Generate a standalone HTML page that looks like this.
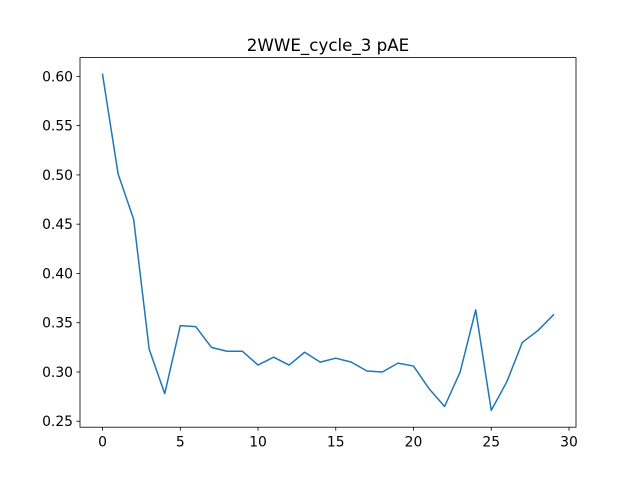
<!DOCTYPE html>
<html><head><meta charset="utf-8"><style>body{margin:0;background:#fff}svg{display:block;font-family:"DejaVu Sans","Liberation Sans",sans-serif}</style></head>
<body>
<svg id="chart" width="640" height="480"></svg>
<script>
const xValues=[0,1,2,3,4,5,6,7,8,9,10,11,12,13,14,15,16,17,18,19,20,21,22,23,24,25,26,27,28,29];
const yValues=[0.602,0.501,0.455,0.323,0.278,0.347,0.346,0.325,0.321,0.321,0.307,0.315,0.307,0.320,0.310,0.314,0.310,0.301,0.300,0.309,0.306,0.283,0.265,0.300,0.363,0.261,0.290,0.330,0.342,0.358];
const xTicks=[0,5,10,15,20,25,30];
const yTicks=[0.25,0.30,0.35,0.40,0.45,0.50,0.55,0.60];
const yTickLabels=["0.25","0.30","0.35","0.40","0.45","0.50","0.55","0.60"];
const titleText="2WWE_cycle_3 pAE";
const NS="http://www.w3.org/2000/svg";
const svg=document.getElementById('chart');
const L=80,R=576,T=57.6,B=427.2;
const xmin0=Math.min(...xValues),xmax0=Math.max(...xValues),ymin0=Math.min(...yValues),ymax0=Math.max(...yValues);
const xpad=(xmax0-xmin0)*0.05,ypad=(ymax0-ymin0)*0.05;
const xlo=xmin0-xpad,xhi=xmax0+xpad,ylo=ymin0-ypad,yhi=ymax0+ypad;
const sx=v=>L+(v-xlo)/(xhi-xlo)*(R-L);
const sy=v=>B-(v-ylo)/(yhi-ylo)*(B-T);
function mk(t,a){const e=document.createElementNS(NS,t);for(const k in a)e.setAttribute(k,a[k]);svg.appendChild(e);return e;}
const title=mk('text',{x:(L+R)/2,y:51,'text-anchor':'middle','font-size':16.7});
title.textContent=titleText;


xTicks.forEach(t=>{const x=sx(t);
const tk=mk('line',{x1:x,x2:x,y1:B,y2:B+3.5,stroke:'#000','stroke-width':0.8});


const lb=mk('text',{x:x,y:B+19.5,'text-anchor':'middle','font-size':13.9});lb.textContent=String(t);

});
yTicks.forEach((t,i)=>{const y=sy(t);
const tk=mk('line',{x1:L-3.5,x2:L,y1:y,y2:y,stroke:'#000','stroke-width':0.8});


const lb=mk('text',{x:L-7,y:y+5,'text-anchor':'end','font-size':13.9});lb.textContent=yTickLabels[i];

});
const line=mk('polyline',{points:xValues.map((x,i)=>sx(x)+','+sy(yValues[i])).join(' '),fill:'none',stroke:'#1f77b4','stroke-width':1.5,'stroke-linejoin':'round','stroke-linecap':'square'});


const frame=mk('rect',{x:L,y:T,width:R-L,height:B-T,fill:'none',stroke:'#000','stroke-width':0.8});


</script>
</body></html>
